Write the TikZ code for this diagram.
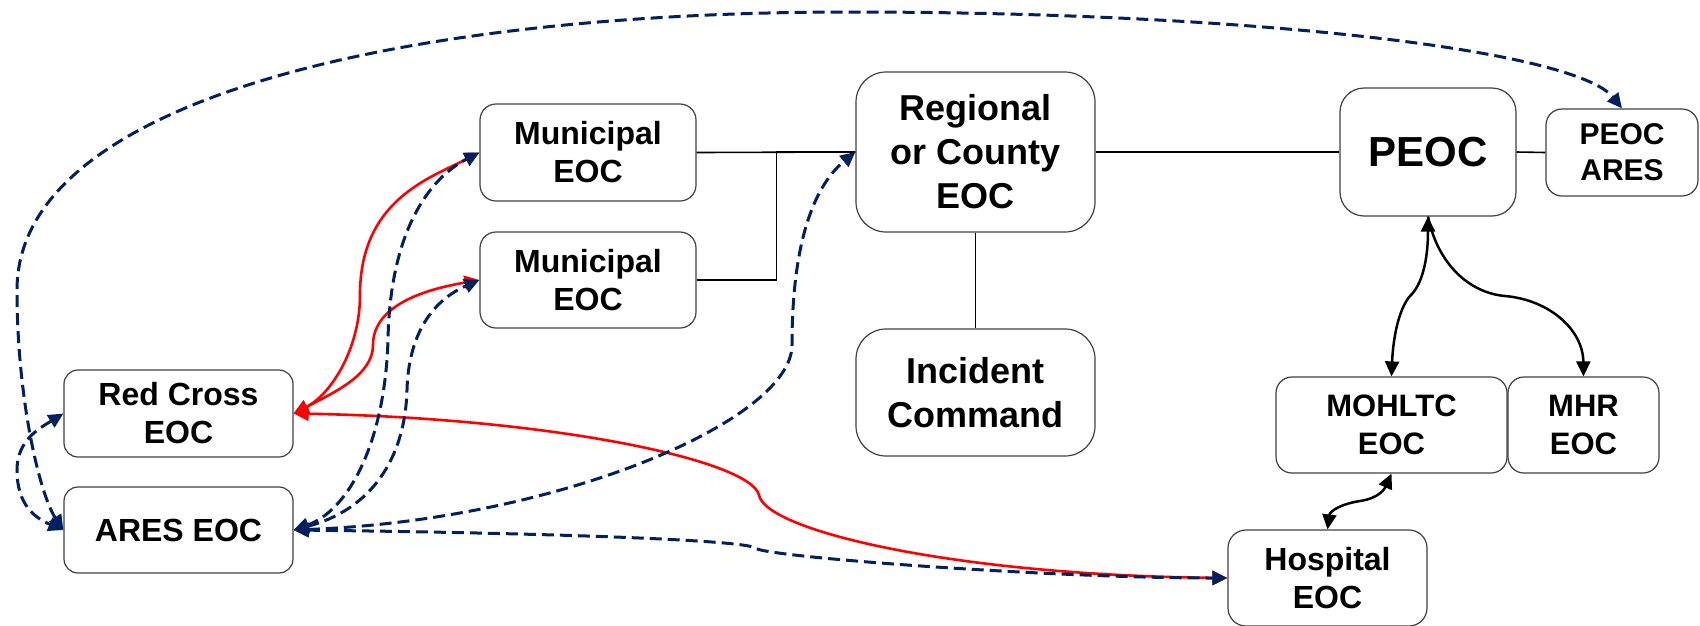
\documentclass[tikz,border=0pt]{standalone}
\usepackage{fontspec}
\setmainfont{Liberation Sans}
\usetikzlibrary{arrows.meta}
\definecolor{navyc}{RGB}{0,32,96}
\definecolor{boxc}{RGB}{64,64,64}
\begin{document}
\begin{tikzpicture}[x=1pt,y=-1pt,
  >={Triangle[length=15pt,width=14pt]},
  box/.style={draw=boxc, line width=1.2pt, rounded corners=#1, align=center, inner sep=0pt,
    font=\fontsize{32}{38}\selectfont\bfseries},
  box/.default=16pt,
  conn/.style={draw=black, line width=1.6pt},
  blk/.style={draw=black, line width=2.5pt},
  redl/.style={draw=red, line width=2.6pt, <->},
  navyl/.style={draw=navyc, line width=3pt, dash pattern=on 12pt off 6pt, <->}
]
\useasboundingbox (0,0) rectangle (1700,625);

% nodes
\node[box, minimum width=216pt, minimum height=97pt] (m1) at (588,152.5) {Municipal\\EOC};
\node[box, minimum width=216pt, minimum height=96pt] (m2) at (588,280) {Municipal\\EOC};
\node[box=30pt, minimum width=239pt, minimum height=160pt, font=\fontsize{36}{44}\selectfont\bfseries] (reg) at (975.5,152) {Regional\\or County\\EOC};
\node[box=30pt, minimum width=239pt, minimum height=127pt, font=\fontsize{36}{44}\selectfont\bfseries] (inc) at (975.5,392.5) {Incident\\Command};
\node[box=24pt, minimum width=176pt, minimum height=128pt, font=\fontsize{42}{50}\selectfont\bfseries] (peoc) at (1428,152) {PEOC};
\node[box, minimum width=152pt, minimum height=87pt, font=\fontsize{30}{36}\selectfont\bfseries] (pa) at (1622,152.5) {PEOC\\ARES};
\node[box, minimum width=231pt, minimum height=96pt, font=\fontsize{31}{38}\selectfont\bfseries] (moh) at (1391.5,425) {MOHLTC\\EOC};
\node[box, minimum width=151pt, minimum height=96pt, font=\fontsize{31}{38}\selectfont\bfseries] (mhr) at (1583.5,425) {MHR\\EOC};
\node[box=18pt, minimum width=199pt, minimum height=96pt] (hosp) at (1327.5,578) {Hospital\\EOC};
\node[box=14pt, minimum width=229pt, minimum height=87pt] (rc) at (178.5,413.5) {Red Cross\\EOC};
\node[box=14pt, minimum width=229pt, minimum height=86pt] (ares) at (178.5,530) {ARES EOC};

% black structural connectors
\draw[conn] (m1.east) -- (reg.west);
\draw[conn] (m2.east) -- ++(80,0) |- (reg.west);
\draw[conn] (reg.south) -- (inc.north);
\draw[conn] (reg.east) -- (peoc.west);
\draw[conn] (peoc.east) -- (pa.west);

% black arrows
\draw[blk, <->] (peoc.south) .. controls (1428,260) and (1422,285) .. (1410,296) .. controls (1398,310) and (1393,340) .. (moh.north);
\draw[blk, ->] (peoc.south) .. controls (1438,265) and (1470,293) .. (1505,296) .. controls (1550,300) and (1583,330) .. (mhr.north);
\draw[blk, <->] (hosp.north) .. controls (1330,510) and (1345,503) .. (1360,501) .. controls (1380,498) and (1385,488) .. (moh.south);

% red connectors
\draw[redl] (rc.east) .. controls (330,395) and (360,350) .. (360,295) .. controls (360,200) and (430,178) .. (m1.west);
\draw[redl] (rc.east) .. controls (335,392) and (373,375) .. (373,345) .. controls (373,300) and (440,287) .. (m2.west);
\draw[redl] (rc.east) .. controls (550,418) and (750,460) .. (759,495) .. controls (765,530) and (950,575) .. (hosp.west);

% navy dashed connectors
\draw[navyl] (ares.west) .. controls (40,495) and (17,400) .. (17,290) .. controls (17,100) and (400,12) .. (850,12) .. controls (1250,12) and (1575,50) .. (pa.north);
\draw[navyl] (rc.west) .. controls (40,428) and (17,440) .. (17,470) .. controls (17,505) and (35,518) .. (ares.west);
\draw[navyl] (ares.east) .. controls (350,510) and (385,440) .. (388,340) .. controls (390,230) and (430,178) .. (m1.west);
\draw[navyl] (ares.east) .. controls (370,510) and (405,460) .. (407,390) .. controls (409,320) and (445,295) .. (m2.west);
\draw[navyl] (ares.east) .. controls (560,520) and (792,420) .. (792,345) .. controls (792,240) and (815,185) .. (reg.west);
\draw[navyl] (ares.east) .. controls (550,533) and (745,540) .. (755,548) .. controls (765,557) and (1050,578) .. (hosp.west);
\end{tikzpicture}
\end{document}
